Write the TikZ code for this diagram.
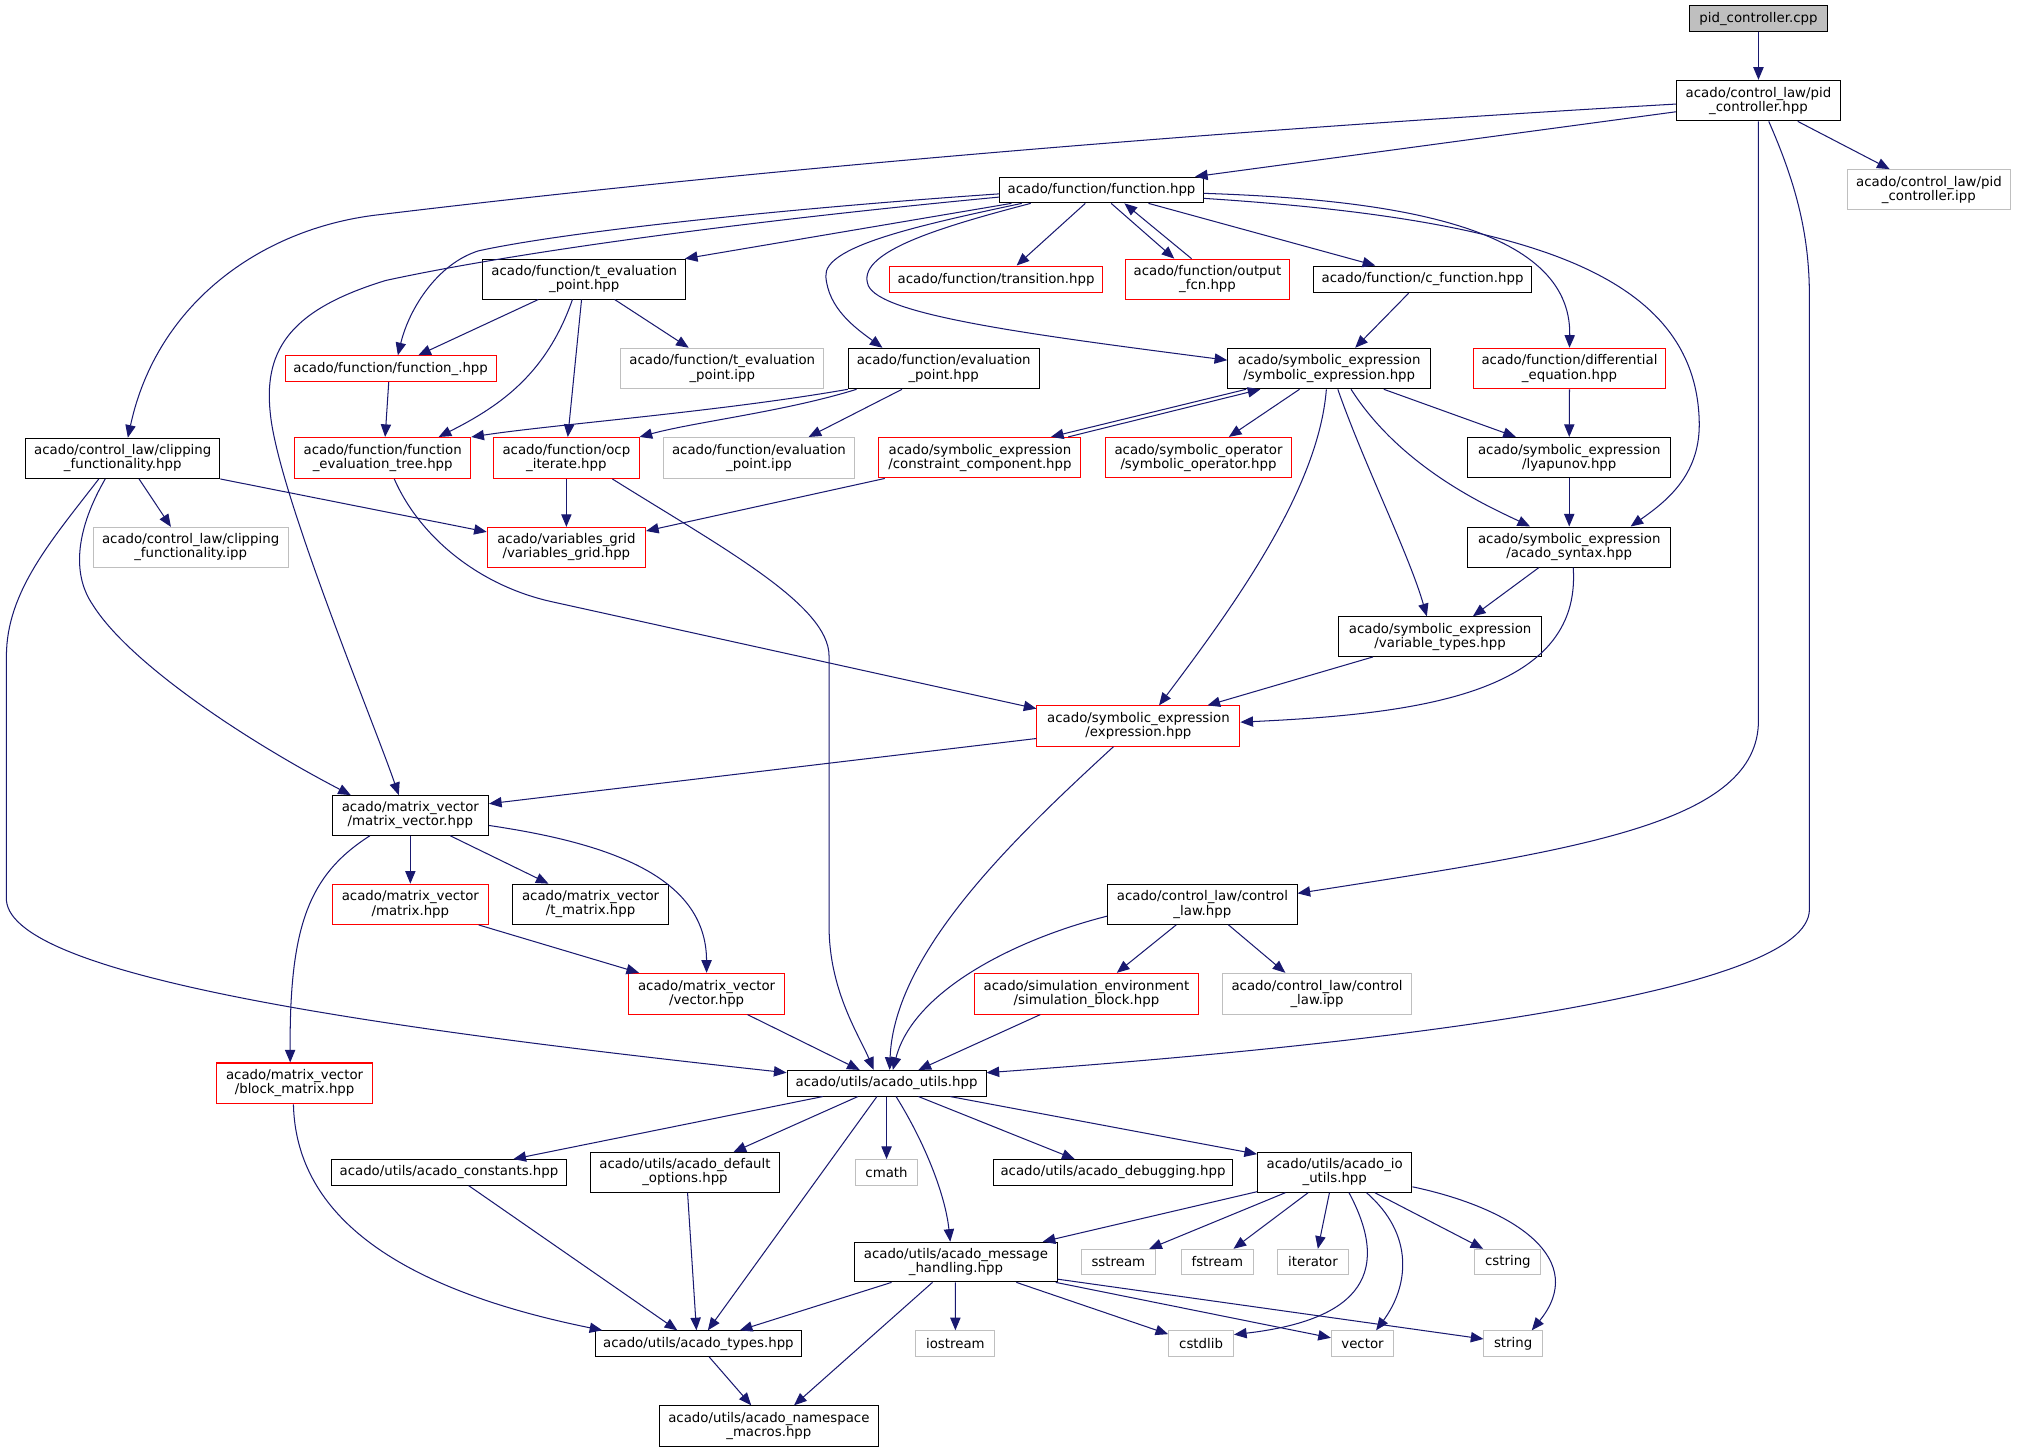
\documentclass[tikz,border=0pt]{standalone}
\usepackage{fontspec}
\setmainfont{DejaVu Sans}
\usetikzlibrary{arrows.meta,calc}
\definecolor{edgec}{HTML}{191970}
\definecolor{grey75}{HTML}{BFBFBF}
\newcommand{\nfont}{\fontsize{10.36}{11}\selectfont}
\begin{document}
\begin{tikzpicture}[x=1pt,y=-1pt,
  nd/.style={rectangle, draw, line width=0.8pt, inner sep=0pt, align=center, font=\nfont, text=black},
  bk/.style={nd, draw=black},
  rd/.style={nd, draw=red},
  gy/.style={nd, draw=grey75},
  rt/.style={nd, draw=black, fill=grey75},
  sz/.style 2 args={minimum width=#1pt, minimum height=#2pt},
  e/.style={draw=edgec, line width=0.8pt, -{Triangle[length=9.8pt,width=8pt]}}
]
\useasboundingbox[fill=white] (0,0) rectangle (1568,1129);

% ---------- nodes ----------
\node[rt, sz={107}{20}] (root) at (1367,14.5) {pid\_controller.cpp};
\node[bk, sz={127.6}{31.5}] (pidh) at (1367,78.2) {acado/control\_law/pid\\\_controller.hpp};
\node[gy, sz={127}{31}] (pidipp) at (1499.5,147.4) {acado/control\_law/pid\\\_controller.ipp};
\node[bk, sz={158}{20}] (func) at (856.3,147.7) {acado/function/function.hpp};
\node[rd, sz={165.4}{20.8}] (trans) at (774.3,217.2) {acado/function/transition.hpp};
\node[rd, sz={128}{31}] (outf) at (938.7,217) {acado/function/output\\\_fcn.hpp};
\node[bk, sz={169}{20.8}] (cfun) at (1105.9,217.2) {acado/function/c\_function.hpp};
\node[bk, sz={157.7}{31}] (tevh) at (454.2,217) {acado/function/t\_evaluation\\\_point.hpp};
\node[bk, sz={157.8}{31.5}] (symexp) at (1033.3,286.5) {acado/symbolic\_expression\\/symbolic\_expression.hpp};
\node[rd, sz={150}{31.5}] (diffeq) at (1220.1,286.5) {acado/function/differential\\\_equation.hpp};
\node[rd, sz={164}{20}] (funcu) at (303.7,286.6) {acado/function/function\_.hpp};
\node[gy, sz={158}{31.5}] (tevipp) at (561.5,286.5) {acado/function/t\_evaluation\\\_point.ipp};
\node[bk, sz={148.3}{31.5}] (evh) at (733.6,286.5) {acado/function/evaluation\\\_point.hpp};
\node[bk, sz={151}{31.3}] (clip) at (95.4,356.3) {acado/control\_law/clipping\\\_functionality.hpp};
\node[rd, sz={137}{31.8}] (fevt) at (297.5,356) {acado/function/function\\\_evaluation\_tree.hpp};
\node[rd, sz={113}{31.8}] (ocp) at (440.3,356) {acado/function/ocp\\\_iterate.hpp};
\node[gy, sz={148.8}{31.8}] (evipp) at (590,356) {acado/function/evaluation\\\_point.ipp};
\node[rd, sz={157}{31.5}] (cons) at (761.8,355.8) {acado/symbolic\_expression\\/constraint\_component.hpp};
\node[rd, sz={145}{31.5}] (symop) at (931.7,355.8) {acado/symbolic\_operator\\/symbolic\_operator.hpp};
\node[bk, sz={157.6}{31.5}] (lyap) at (1219.9,355.8) {acado/symbolic\_expression\\/lyapunov.hpp};
\node[gy, sz={151.7}{31}] (clipipp) at (148.2,425.5) {acado/control\_law/clipping\\\_functionality.ipp};
\node[rd, sz={123}{31}] (vgrid) at (440.3,425.5) {acado/variables\_grid\\/variables\_grid.hpp};
\node[bk, sz={157.6}{31.2}] (syntax) at (1219.9,425.3) {acado/symbolic\_expression\\/acado\_syntax.hpp};
\node[bk, sz={157.8}{30.8}] (vtypes) at (1119.5,494.9) {acado/symbolic\_expression\\/variable\_types.hpp};
\node[rd, sz={157.8}{31.3}] (expr) at (885,564.4) {acado/symbolic\_expression\\/expression.hpp};
\node[bk, sz={121.5}{30.8}] (mv) at (319,633.9) {acado/matrix\_vector\\/matrix\_vector.hpp};
\node[rd, sz={121.5}{31.3}] (mat) at (319,703) {acado/matrix\_vector\\/matrix.hpp};
\node[bk, sz={121}{31.3}] (tmat) at (459.1,703) {acado/matrix\_vector\\/t\_matrix.hpp};
\node[bk, sz={147.2}{30.8}] (ctrl) at (934.7,703.1) {acado/control\_law/control\\\_law.hpp};
\node[rd, sz={121}{31.7}] (vec) at (549.3,772.5) {acado/matrix\_vector\\/vector.hpp};
\node[rd, sz={174}{31.7}] (simb) at (844.6,772.5) {acado/simulation\_environment\\/simulation\_block.hpp};
\node[gy, sz={147.2}{31.7}] (ctrlipp) at (1023.9,772.5) {acado/control\_law/control\\\_law.ipp};
\node[rd, sz={121}{31.7}] (blk) at (229,842.2) {acado/matrix\_vector\\/block\_matrix.hpp};
\node[bk, sz={154.7}{19.9}] (utils) at (689.2,842.1) {acado/utils/acado\_utils.hpp};
\node[bk, sz={182.5}{19.9}] (const) at (349,911.4) {acado/utils/acado\_constants.hpp};
\node[bk, sz={146.8}{30.8}] (defopt) at (532.5,911.4) {acado/utils/acado\_default\\\_options.hpp};
\node[gy, sz={48.6}{19.9}] (cmath) at (689.2,911.4) {cmath};
\node[bk, sz={185.4}{19.9}] (dbg) at (865.2,911.4) {acado/utils/acado\_debugging.hpp};
\node[bk, sz={120}{30.8}] (io) at (1037.6,911.4) {acado/utils/acado\_io\\\_utils.hpp};
\node[bk, sz={157.4}{30.8}] (msg) at (743.1,981.1) {acado/utils/acado\_message\\\_handling.hpp};
\node[gy, sz={58}{19.4}] (sstream) at (869.4,980.9) {sstream};
\node[gy, sz={56.4}{19.4}] (fstream) at (946.3,980.9) {fstream};
\node[gy, sz={55}{19.4}] (iterator) at (1020.7,980.9) {iterator};
\node[gy, sz={51.4}{19.4}] (cstring) at (1172.2,980.9) {cstring};
\node[bk, sz={160.6}{19.9}] (types) at (542.9,1044.5) {acado/utils/acado\_types.hpp};
\node[gy, sz={61.4}{19.9}] (iostream) at (742.7,1044.5) {iostream};
\node[gy, sz={50.4}{19.9}] (cstdlib) at (933.7,1044.5) {cstdlib};
\node[gy, sz={48.4}{19.9}] (vector) at (1059.2,1044.5) {vector};
\node[gy, sz={45.4}{19.9}] (string) at (1176.3,1044.5) {string};
\node[bk, sz={170}{31.3}] (ns) at (597.7,1108.5) {acado/utils/acado\_namespace\\\_macros.hpp};

% ---------- edges ----------
\draw[e] (root.south) -- (pidh.north);
\draw[e] ($(pidh.west)+(0,8.7)$) -- ($(func.north)+(72.7,0)$);
\draw[e] ($(pidh.west)+(0,2.7)$) .. controls (970,100) and (600,130) .. (297.5,166.6) .. controls (205,176) and (122,235) .. ($(clip.north)+(4,0)$);
\draw[e] ($(pidh.south)+(30.5,0)$) -- ($(pidipp.north)+(-30.5,0)$);
\draw[e] (pidh.south) -- (1367,560) .. controls (1367,640) and (1230,660) .. ($(ctrl.east)+(0,-8.6)$);
\draw[e] ($(pidh.south)+(8,0)$) .. controls (1395,140) and (1406.6,180) .. (1406.6,230) -- (1406.6,707) .. controls (1406.6,770) and (1100,810) .. ($(utils.east)+(0,-8.2)$);

\draw[e] ($(func.south)+(-70,0)$) -- ($(tevh.north east)+(-1,0)$);
\draw[e] ($(func.west)+(0,3)$) .. controls (640,160) and (450,178) .. (372,195) .. controls (340,205) and (318,240) .. ($(funcu.north)+(5.6,0)$);
\draw[e] ($(func.west)+(0,5.5)$) .. controls (620,168) and (420,192) .. (300,218) .. controls (228,240) and (205,270) .. (210,320) .. controls (215,380) and (290,560) .. ($(mv.north)+(-9,0)$);
\draw[e] ($(func.south)+(-12.6,0)$) -- ($(trans.north)+(16,0)$);
\draw[e] ($(func.south)+(7.5,0)$) -- ($(outf.north)+(-25.8,0)$);
\draw[e] ($(outf.north)+(-12.4,0)$) -- ($(func.south)+(17.8,0)$);
\draw[e] ($(func.south)+(36.5,0)$) -- ($(cfun.north)+(-36.8,0)$);
\draw[e] ($(func.east)+(0,2.6)$) .. controls (1080,155) and (1222,175) .. (diffeq.north);
\draw[e] ($(func.east)+(0,6.5)$) .. controls (1180,170) and (1320,210) .. (1321,330) .. controls (1321,370) and (1295,390) .. ($(syntax.north)+(47.7,0)$);
\draw[e] ($(func.south)+(-62,0)$) .. controls (710,176) and (640,192) .. (642,215) .. controls (644,240) and (665,255) .. ($(evh.north)+(-47.6,0)$);
\draw[e] ($(func.south)+(-55,0)$) .. controls (725,178) and (665,197) .. (675,222) .. controls (685,245) and (800,260) .. ($(symexp.west)+(0,-6.5)$);

\draw[e] ($(cfun.south)+(-10.9,0)$) -- ($(symexp.north)+(20.2,0)$);
\draw[e] (diffeq.south) -- (lyap.north);
\draw[e] (lyap.south) -- (syntax.north);
\draw[e] ($(symexp.south)+(-64.6,0)$) -- ($(cons.north)+(55.2,0)$);
\draw[e] ($(cons.north)+(68.6,0)$) -- ($(symexp.south)+(-53.5,0)$);
\draw[e] ($(symexp.south)+(-23.1,0)$) -- ($(symop.north)+(23.6,0)$);
\draw[e] ($(symexp.south)+(42.5,0)$) -- ($(lyap.north)+(-41.5,0)$);
\draw[e] ($(symexp.south)+(17,0)$) .. controls (1090,365) and (1160,395) .. ($(syntax.north)+(-30.4,0)$);
\draw[e] ($(symexp.south)+(6.7,0)$) .. controls (1060,360) and (1095,430) .. ($(vtypes.north)+(-10.3,0)$);
\draw[e] ($(symexp.south)+(-2.2,0)$) .. controls (1025,380) and (960,470) .. ($(expr.north)+(16,0)$);
\draw[e] ($(syntax.south)+(-23.7,0)$) -- ($(vtypes.north)+(25.5,0)$);
\draw[e] ($(syntax.south)+(3.1,0)$) .. controls (1230,540) and (1100,555) .. ($(expr.east)+(0,-3)$);
\draw[e] ($(vtypes.south)+(-52.2,0)$) -- ($(expr.north)+(53.7,0)$);
\draw[e] ($(fevt.south)+(9,0)$) .. controls (325,415) and (370,455) .. (430,468) -- ($(expr.west)+(0,-13.5)$);
\draw[e] ($(expr.west)+(0,9.7)$) -- ($(mv.east)+(0,-9.1)$);
\draw[e] ($(expr.south)+(-19.4,0)$) .. controls (790,650) and (695,740) .. ($(utils.north)+(2.4,0)$);

\draw[e] ($(tevh.south)+(-35.8,0)$) -- ($(funcu.north)+(21.5,0)$);
\draw[e] ($(tevh.south)+(-9.2,0)$) .. controls (425,290) and (390,315) .. ($(fevt.north)+(43.5,0)$);
\draw[e] ($(tevh.south)+(-2.1,0)$) -- ($(ocp.north)+(1.1,0)$);
\draw[e] ($(tevh.south)+(23.7,0)$) -- ($(tevipp.north)+(-26.1,0)$);
\draw[e] ($(funcu.south)+(-1.5,0)$) -- ($(fevt.north)+(1.9,0)$);
\draw[e] (evh.south west) .. controls (560,320) and (430,330) .. (fevt.north east);
\draw[e] ($(evh.south west)+(6.8,0)$) .. controls (610,320) and (540,328) .. (ocp.north east);
\draw[e] ($(evh.south)+(-32.4,0)$) -- ($(evipp.north)+(38.6,0)$);
\draw[e] (ocp.south) -- (vgrid.north);
\draw[e] ($(ocp.south)+(35.7,0)$) .. controls (560,425) and (644.5,470) .. (644.5,510) -- (644.5,720) .. controls (644.5,770) and (668,805) .. ($(utils.north)+(-10,0)$);
\draw[e] ($(cons.south west)+(4.9,0)$) -- ($(vgrid.east)+(0,-12.7)$);

\draw[e] ($(clip.south)+(12.7,0)$) -- ($(clipipp.north)+(-15.3,0)$);
\draw[e] (clip.south east) -- ($(vgrid.west)+(0,-12)$);
\draw[e] ($(clip.south)+(-13.6,0)$) .. controls (60,410) and (55,445) .. (72,470) .. controls (100,515) and (190,575) .. ($(mv.north)+(-46.3,0)$);
\draw[e] ($(clip.south)+(-18.6,0)$) .. controls (40,420) and (5,460) .. (5,510) -- (5,700) .. controls (10,760) and (300,800) .. ($(utils.west)+(0,-8.2)$);

\draw[e] (mv.south) -- (mat.north);
\draw[e] ($(mv.south)+(31,0)$) -- ($(tmat.north)+(-32.7,0)$);
\draw[e] ($(mv.east)+(0,7.8)$) .. controls (470,655) and (549,680) .. (vec.north);
\draw[e] ($(mv.south)+(-31.4,0)$) .. controls (240,680) and (225,720) .. ($(blk.north)+(-3.4,0)$);
\draw[e] ($(mat.south east)+(-8,0)$) -- ($(vec.north west)+(8.4,0)$);
\draw[e] ($(vec.south)+(31.8,0)$) -- ($(utils.north)+(-20.9,0)$);
\draw[e] ($(ctrl.west)+(0,9.1)$) .. controls (790,730) and (710,770) .. ($(utils.north)+(4.9,0)$);
\draw[e] ($(ctrl.south)+(-20.2,0)$) -- ($(simb.north)+(23.6,0)$);
\draw[e] ($(ctrl.south)+(20.2,0)$) -- ($(ctrlipp.north)+(-24.7,0)$);
\draw[e] ($(simb.south)+(-35.9,0)$) -- ($(utils.north)+(24.8,0)$);
\draw[e] ($(blk.south)+(-0.9,0)$) .. controls (230,940) and (300,1000) .. ($(types.north west)+(6,0)$);

\draw[e] ($(utils.south)+(-49.6,0)$) -- ($(const.north)+(50.1,0)$);
\draw[e] ($(utils.south)+(-22.3,0)$) -- ($(defopt.north)+(37.7,0)$);
\draw[e] (utils.south) -- (cmath.north);
\draw[e] ($(utils.south)+(-7.5,0)$) -- ($(types.north)+(7.4,0)$);
\draw[e] ($(utils.south)+(7.4,0)$) .. controls (720,890) and (735,930) .. ($(msg.north)+(-4.4,0)$);
\draw[e] ($(utils.south)+(24.8,0)$) -- ($(dbg.north)+(-29.8,0)$);
\draw[e] ($(utils.south)+(49.5,0)$) -- ($(io.west)+(0,-14.2)$);
\draw[e] ($(const.south)+(15.4,0)$) -- ($(types.north)+(-16.4,0)$);
\draw[e] ($(defopt.south)+(2,0)$) -- ($(types.north)+(-1.5,0)$);
\draw[e] ($(msg.south)+(-50,0)$) -- ($(types.north)+(32.2,0)$);
\draw[e] ($(msg.south)+(-0.4,0)$) -- (iostream.north);
\draw[e] ($(msg.south)+(-18.2,0)$) -- ($(ns.north)+(19.6,0)$);
\draw[e] ($(msg.south)+(47,0)$) -- ($(cstdlib.north west)+(0,3)$);
\draw[e] ($(msg.south east)+(-1.5,0)$) -- ($(vector.west)+(0,-4.5)$);
\draw[e] ($(msg.east)+(0,13.3)$) -- ($(string.west)+(0,-3.6)$);
\draw[e] ($(types.south)+(8.4,0)$) -- ($(ns.north)+(-13.7,0)$);
\draw[e] ($(io.south west)+(0,-0.8)$) -- ($(msg.north east)+(-11.6,0)$);
\draw[e] ($(io.south)+(-38.4,0)$) -- ($(sstream.north)+(24,0)$);
\draw[e] ($(io.south)+(-20.7,0)$) -- ($(fstream.north)+(12.6,0)$);
\draw[e] ($(io.south)+(-4.1,0)$) -- ($(iterator.north)+(3.8,0)$);
\draw[e] ($(io.south)+(11.1,0)$) .. controls (1085,995) and (1050,1027) .. ($(cstdlib.east)+(0,-7)$);
\draw[e] ($(io.south)+(24.7,0)$) .. controls (1100,960) and (1095,1000) .. ($(vector.north)+(10.6,0)$);
\draw[e] ($(io.south)+(31.2,0)$) -- ($(cstring.north)+(-19.2,0)$);
\draw[e] ($(io.east)+(0,11.2)$) .. controls (1180,940) and (1235,980) .. ($(string.north)+(14.5,0)$);
\end{tikzpicture}
\end{document}
